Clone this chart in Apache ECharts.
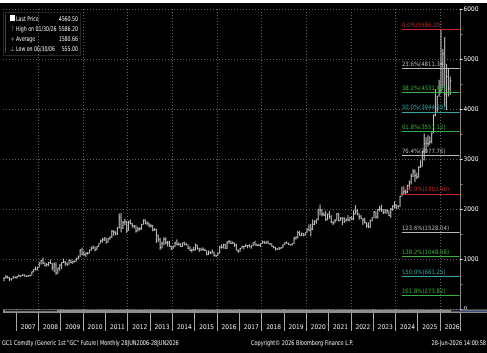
<!DOCTYPE html>
<html><head><meta charset="utf-8">
<script src="https://cdn.jsdelivr.net/npm/echarts@6/dist/echarts.min.js"></script>
<style>html,body{margin:0;padding:0;background:#000;}#c{width:487px;height:353px;}</style>
</head><body><div id="c"></div>
<script>
// ---- data (monthly bars, Jun 2006 .. Jun 2026) ----
const startYear = 2006, startMonth = 6;      // first category
const axisEndYear = 2026, axisEndMonth = 11; // axis extends past last bar
const firstLabelYear = 2007;
const closes = [
  614,634,624,599,604,648,632,
  651,665,663,679,660,650,666,673,743,795,783,834,
  923,972,917,864,885,928,913,834,880,718,816,884,
  928,942,916,884,979,927,955,955,1008,1040,1182,1096,
  1081,1118,1115,1180,1213,1244,1181,1248,1309,1359,1386,1421,
  1333,1409,1439,1556,1536,1500,1628,1825,1620,1725,1746,1566,
  1738,1711,1669,1664,1562,1604,1610,1692,1773,1719,1711,1675,
  1663,1578,1595,1476,1392,1234,1312,1395,1327,1323,1250,1202,
  1240,1321,1284,1296,1250,1322,1282,1287,1210,1171,1175,1184,
  1279,1213,1183,1182,1190,1172,1095,1132,1114,1142,1065,1060,
  1116,1238,1234,1291,1215,1320,1350,1311,1316,1273,1173,1152,
  1211,1253,1249,1268,1269,1242,1270,1322,1280,1271,1275,1309,
  1343,1318,1327,1316,1305,1253,1233,1206,1192,1215,1223,1282,
  1325,1316,1298,1285,1311,1413,1437,1529,1472,1514,1473,1523,
  1589,1566,1597,1694,1751,1800,1986,1978,1896,1879,1780,1895,
  1850,1729,1716,1768,1905,1771,1817,1818,1757,1784,1776,1829,
  1796,1900,1954,1912,1848,1807,1782,1726,1672,1640,1768,1826,
  1945,1836,1986,1999,1982,1929,1970,1966,1866,1996,2057,2071,
  2067,2054,2254,2303,2345,2339,2473,2536,2659,2749,2665,2641,
  2835,2848,3150,3305,3315,3307,3348,3516,3873,4000,4255,4340,
  4900,5100,4300,4650,4420,4560.5
];
const highs = [
  632,680,666,637,609,652,650,
  659,693,673,696,691,675,677,685,748,798,848,842,
  935,980,1033,934,918,942,988,920,930,935,825,890,
  935,1007,961,930,983,991,961,970,1024,1071,1195,1227,
  1162,1125,1139,1183,1249,1266,1246,1248,1310,1388,1424,1432,
  1424,1412,1448,1575,1577,1555,1632,1911,1923,1760,1804,1764,
  1765,1792,1719,1681,1672,1640,1630,1694,1790,1798,1755,1728,
  1697,1684,1617,1600,1488,1424,1348,1434,1434,1361,1361,1267,
  1270,1345,1392,1331,1315,1326,1345,1325,1290,1256,1206,1240,
  1308,1285,1224,1225,1232,1204,1174,1170,1157,1191,1146,1088,
  1127,1263,1287,1303,1305,1362,1377,1366,1352,1326,1307,1192,
  1220,1264,1264,1297,1274,1296,1272,1326,1362,1307,1300,1312,
  1366,1361,1355,1369,1320,1310,1264,1237,1215,1243,1239,1287,
  1330,1349,1326,1302,1313,1442,1453,1566,1560,1523,1519,1527,
  1613,1691,1704,1788,1775,1803,2006,2089,2000,1933,1966,1907,
  1962,1876,1760,1799,1916,1919,1836,1834,1836,1815,1879,1832,
  1855,1976,2078,2004,1910,1880,1815,1824,1735,1734,1786,1834,
  1956,1952,2003,2063,2085,1998,1995,1998,1966,2022,2075,2152,
  2090,2070,2260,2448,2454,2388,2483,2570,2708,2801,2790,2726,
  2853,2974,3163,3509,3435,3476,3451,3534,3892,4398,4260,4584,
  5586.2,5200,5440,4900,4800,4650
];
const lows = [
  555,611,612,560,570,603,610,
  605,645,636,663,652,642,647,650,670,730,776,776,
  832,888,902,860,852,857,905,775,735,681,705,762,
  801,917,866,865,885,916,904,932,952,1000,1043,1075,
  1075,1045,1086,1113,1164,1195,1155,1176,1242,1311,1330,1360,
  1309,1330,1381,1418,1462,1478,1478,1610,1535,1600,1672,1523,
  1562,1689,1627,1613,1527,1548,1564,1584,1686,1695,1672,1636,
  1626,1555,1562,1321,1338,1180,1207,1274,1292,1251,1240,1182,
  1203,1239,1277,1269,1240,1240,1280,1273,1204,1160,1130,1170,
  1167,1190,1142,1167,1170,1162,1072,1080,1098,1107,1052,1046,
  1061,1108,1208,1208,1199,1200,1310,1301,1304,1241,1171,1123,
  1146,1211,1195,1241,1214,1237,1205,1257,1276,1260,1264,1238,
  1306,1307,1303,1310,1282,1250,1212,1167,1180,1183,1196,1221,
  1277,1311,1281,1266,1268,1300,1385,1412,1465,1458,1455,1462,
  1518,1563,1451,1577,1680,1705,1774,1874,1851,1860,1764,1776,
  1802,1717,1677,1716,1767,1750,1767,1677,1721,1747,1761,1753,
  1781,1780,1890,1872,1786,1804,1681,1710,1623,1618,1620,1754,
  1822,1808,1810,1952,1942,1900,1903,1904,1859,1823,1964,2009,
  2001,2001,2040,2252,2290,2295,2319,2390,2492,2640,2541,2596,
  2625,2822,2851,2970,3121,3247,3282,3314,3522,3855,3930,4250,
  4320,4420,4050,3980,4250,4280
];
const fibLabels = ['0.0%','23.6%','38.2%','50.0%','61.8%','76.4%','100.0%','123.6%','138.2%','150.0%','161.8%'];
const fibValues = [5586.20,4811.34,4331.98,3944.55,3557.12,3077.76,2302.90,1528.04,1048.68,661.25,273.82];
const fibStart = '2024-04';
const lastPrice = 4560.50;
const legendLabels = ['Last Price','High on 01/30/26','Average','Low on 06/30/06'];
const legendValues = ['4560.50','5586.20','1580.66','555.00'];
const yMin = 0, yMax = 6000, yStep = 1000;
const footerLeft = 'GC1 Comdty (Generic 1st "GC" Future) Monthly 28JUN2006-28JUN2026';
const footerMid = 'Copyright\u00A9 2026 Bloomberg Finance L.P.';
const footerRight = '28-Jun-2026 14:00:58';

// ---- styles ----
const fibColors = ['#c4262c','#b8b8b8','#3aae3a','#33a6a6','#3aae3a','#b8b8b8','#c4262c','#b8b8b8','#3aae3a','#33a6a6','#3aae3a'];
const FONT = "'Liberation Sans Narrow','DejaVu Sans Condensed',sans-serif";

// categories
const categories = [];
for (let y = startYear, m = startMonth; y < axisEndYear || (y === axisEndYear && m <= axisEndMonth); ) {
  categories.push(y + '-' + String(m).padStart(2, '0'));
  m++; if (m > 12) { m = 1; y++; }
}
const bars = closes.map((c, i) => [i, lows[i], highs[i], c]);
const endCat = categories[categories.length - 1];

const fibData = fibValues.map((v, i) => [
  { coord: [fibStart, v], lineStyle: { color: fibColors[i], width: 1, type: 'solid' },
    label: { formatter: fibLabels[i] + '(' + v.toFixed(2) + ')', color: fibColors[i] } },
  { coord: [endCat, v] }
]);

const chart = echarts.init(document.getElementById('c'), null, { renderer: 'canvas' });

const LF = '6.5px ' + FONT;
const SX = 0.8;
const legendChildren = [];
legendChildren.push({ type: 'rect', shape: { x: 3.5, y: 12.5, width: 77, height: 43 }, style: { fill: 'none', stroke: '#262626' } });
legendChildren.push({ type: 'line', shape: { x1: 5.5, y1: 15, x2: 5.5, y2: 53 }, style: { stroke: '#4a4a4a' } });
legendChildren.push({ type: 'rect', shape: { x: 10, y: 15, width: 5, height: 6 }, style: { fill: '#ffffff' } });
const icons = ['', '\u22A4', '+', '\u22A5'];
legendLabels.forEach((t, i) => {
  const yy = 19 + i * 10;
  if (icons[i]) legendChildren.push({ type: 'text', x: 12.5, y: yy, style: { text: icons[i], fill: '#9a9a9a', font: LF, align: 'center', verticalAlign: 'middle' } });
  legendChildren.push({ type: 'text', x: 16, y: yy, scaleX: SX, style: { text: t, fill: '#e8e8e8', font: LF, verticalAlign: 'middle' } });
  legendChildren.push({ type: 'text', x: 78, y: yy, scaleX: SX, style: { text: legendValues[i], fill: '#e8e8e8', font: LF, align: 'right', verticalAlign: 'middle' } });
});

chart.setOption({
  backgroundColor: '#000',
  animation: false,
  grid: { left: 3, right: 26.5, top: 9, bottom: 44, containLabel: false },
  xAxis: {
    type: 'category',
    data: categories,
    boundaryGap: true,
    offset: 5,
    axisLine: { show: false },
    axisTick: {
      show: true, length: 22, lineStyle: { color: '#a8a8a8', width: 1 },
      interval: (i, v) => v.slice(5) === '01'
    },
    axisLabel: {
      interval: (i, v) => v.slice(5) === '07' && +v.slice(0, 4) >= firstLabelYear,
      formatter: v => v.slice(0, 4),
      color: '#e8e8e8', fontSize: 6.5, fontFamily: FONT, margin: 10
    },
    splitLine: {
      show: true, lineStyle: { color: '#5e5e5e', type: [1, 2], width: 1 },
      interval: (i, v) => v.slice(5) === '01' && (+v.slice(0, 4)) % 2 === 0
    }
  },
  yAxis: {
    type: 'value', position: 'right', min: yMin, max: yMax, interval: yStep,
    axisLine: { show: true, lineStyle: { color: '#8a8a8a' } },
    axisTick: { show: true, length: 2, lineStyle: { color: '#ffffff' } },
    minorTick: { show: true, splitNumber: 2, length: 2, lineStyle: { color: '#888' } },
    axisLabel: { color: '#e8e8e8', fontSize: 6.5, fontFamily: FONT, margin: 3, formatter: v => String(v) },
    splitLine: { show: true, lineStyle: { color: '#5e5e5e', type: [1, 2], width: 1 } }
  },
  series: [
    {
      type: 'custom',
      data: bars,
      encode: { x: 0, y: [1, 2, 3] },
      renderItem: (params, api) => {
        const i = api.value(0);
        const lo = api.coord([i, api.value(1)]);
        const hi = api.coord([i, api.value(2)]);
        const cl = api.coord([i, api.value(3)]);
        const w = api.size([1, 0])[0];
        return { type: 'group', children: [
          { type: 'line', shape: { x1: lo[0], y1: lo[1], x2: hi[0], y2: hi[1] }, style: { stroke: '#dcdcdc', lineWidth: 0.9 } },
          { type: 'line', shape: { x1: cl[0], y1: cl[1], x2: cl[0] + w * 0.6, y2: cl[1] }, style: { stroke: '#dcdcdc', lineWidth: 0.9 } }
        ] };
      },
      z: 3
    },
    {
      type: 'line', data: [], silent: true,
      markLine: {
        silent: true, symbol: 'none', animation: false,
        label: { show: true, position: 'insideStartTop', distance: [0, 1], fontSize: 6, fontFamily: FONT },
        data: fibData
      },
      z: 2
    },
    {
      type: 'line', data: [], silent: true,
      markLine: {
        silent: true, symbol: 'none', animation: false,
        lineStyle: { opacity: 0 },
        label: { show: true, position: 'end', distance: 2, formatter: lastPrice.toFixed(2), color: '#000', backgroundColor: '#f2f2f2',
          borderRadius: 2, padding: [1, 2, 0, 2], fontSize: 6.5, fontFamily: FONT },
        data: [{ yAxis: lastPrice }]
      },
      z: 4
    }
  ],
  graphic: [
    { type: 'rect', shape: { x: 0, y: 0, width: 487, height: 3 }, style: { fill: '#ffffff' }, z: 100 },
    { type: 'rect', shape: { x: 3, y: 309.5, width: 484, height: 3.5 }, style: { fill: '#8e8e8e' }, z: 100 },
    { type: 'rect', shape: { x: 5, y: 310, width: 52, height: 1.2 }, style: { fill: '#1c1c1c' }, z: 101 },
    { type: 'rect', shape: { x: 451, y: 310, width: 9, height: 1.5 }, style: { fill: '#1c1c1c' }, z: 101 },
    { type: 'rect', shape: { x: 460, y: 310.5, width: 27, height: 1.5 }, style: { fill: '#3a4f78' }, z: 101 },
    { type: 'group', children: legendChildren, z: 100 },
    { type: 'text', x: 2, y: 343, scaleX: 0.85, style: { text: footerLeft, fill: '#e8e8e8', font: '6.5px ' + FONT, verticalAlign: 'middle' }, z: 100 },
    { type: 'text', x: 251, y: 343, scaleX: 0.85, style: { text: footerMid, fill: '#e8e8e8', font: '6.5px ' + FONT, verticalAlign: 'middle' }, z: 100 },
    { type: 'text', x: 486, y: 343, scaleX: 0.85, style: { text: footerRight, fill: '#e8e8e8', font: '6.5px ' + FONT, align: 'right', verticalAlign: 'middle' }, z: 100 }
  ]
});
</script></body></html>
